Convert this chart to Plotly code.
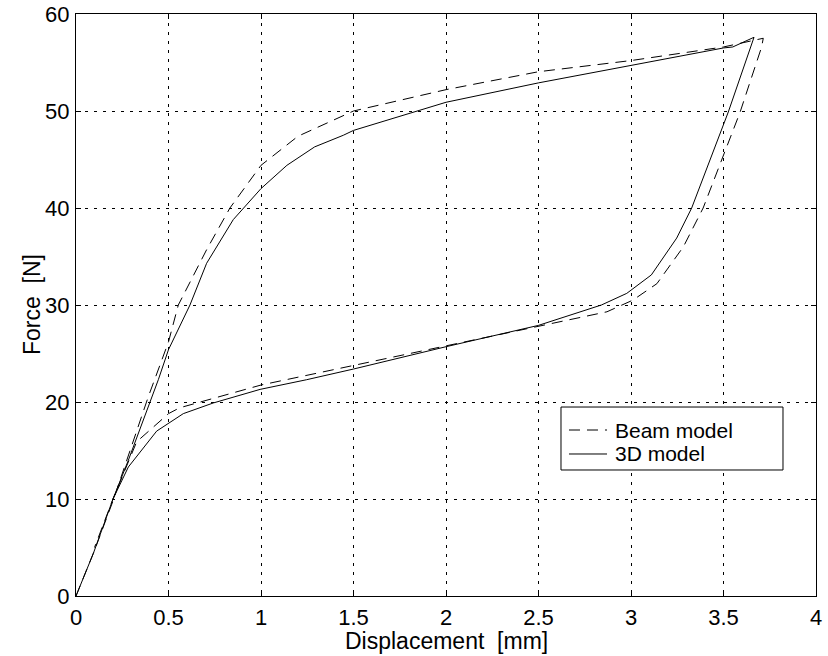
import plotly.graph_objects as go

beam_x = [0, 0.1, 0.2, 0.39, 0.5, 0.553, 0.706, 0.832, 1.0, 1.2, 1.5, 2.0, 2.5, 3.0, 3.5, 3.715,
          3.706, 3.59, 3.39, 3.283, 3.14, 3.01, 2.87, 2.5, 2.0, 1.5, 1.0, 0.56, 0.5, 0.328, 0.2, 0.1]
beam_y = [0, 4.7, 9.8, 20.5, 26.2, 30.0, 35.7, 40.0, 44.4, 47.4, 50.0, 52.2, 54.05, 55.2, 56.6, 57.5,
          56.6, 49.9, 40.0, 36.0, 32.2, 30.5, 29.3, 27.8, 25.8, 23.8, 21.75, 19.4, 18.8, 15.9, 10.0, 5.0]

model3d_x = [0, 0.094, 0.2, 0.283, 0.445, 0.5, 0.616, 0.706, 0.85, 1.0, 1.14, 1.29, 1.445, 1.5, 2.0, 2.5,
             3.0, 3.5, 3.55, 3.665, 3.526, 3.328, 3.247, 3.11, 2.977, 2.84, 2.5, 2.0, 1.5, 1.247, 0.995,
             0.742, 0.58, 0.436, 0.283, 0.2]
model3d_y = [0, 4.4, 10.0, 14.0, 22.3, 25.4, 30.0, 34.3, 38.8, 42.0, 44.4, 46.3, 47.5, 48.0, 50.9, 52.9,
             54.7, 56.5, 56.6, 57.6, 49.9, 40.0, 36.9, 33.1, 31.2, 30.0, 27.9, 25.7, 23.4, 22.3, 21.3,
             19.9, 18.8, 17.0, 13.3, 10.0]

x_ticks = [0, 0.5, 1, 1.5, 2, 2.5, 3, 3.5, 4]
y_ticks = [0, 10, 20, 30, 40, 50, 60]
series_names = ["Beam model", "3D model"]

FAM = "Liberation Sans, Arial, sans-serif"
DASH = "11px,7px"

fig = go.Figure()
fig.add_trace(go.Scatter(x=beam_x, y=beam_y, mode="lines", name=series_names[0],
                         line=dict(color="black", width=1, dash=DASH)))
fig.add_trace(go.Scatter(x=model3d_x, y=model3d_y, mode="lines", name=series_names[1],
                         line=dict(color="black", width=1)))

tickfont = dict(family=FAM, size=22, color="black")
axis_common = dict(showline=True, linecolor="black", linewidth=1, mirror="ticks",
                   ticks="inside", ticklen=5, tickcolor="black",
                   showgrid=True, gridcolor="black", gridwidth=1, griddash="3px,6px",
                   zeroline=False, tickfont=tickfont, automargin=False)

fig.update_xaxes(range=[0, 4], tickvals=x_ticks, ticktext=[str(v) for v in x_ticks],
                 ticklabelstandoff=2, **axis_common)
fig.update_yaxes(range=[0, 60], tickvals=y_ticks, ticktext=[str(v) for v in y_ticks],
                 ticklabelstandoff=1, **axis_common)

titlefont = dict(family=FAM, size=23, color="black")
fig.add_annotation(text="Displacement  [mm]", xref="paper", yref="paper", x=0.5, y=0,
                   yshift=-30, xanchor="center", yanchor="top", showarrow=False, font=titlefont)
fig.add_annotation(text="Force  [N]", xref="paper", yref="paper", x=0, y=0.5, xshift=-44,
                   textangle=-90, xanchor="center", yanchor="middle", showarrow=False, font=titlefont)

# manual legend (box, line samples, labels) in paper coordinates
leg_x0, leg_x1, leg_y0, leg_y1 = 0.6554, 0.9554, 0.2165, 0.3247
fig.add_shape(type="rect", xref="paper", yref="paper", x0=leg_x0, x1=leg_x1, y0=leg_y0, y1=leg_y1,
              line=dict(color="black", width=1), fillcolor="white", layer="above")
row_y = [0.2852, 0.2440]
dashes = [DASH, "solid"]
for name, ry, d in zip(series_names, row_y, dashes):
    fig.add_shape(type="line", xref="paper", yref="paper", x0=0.6662, x1=0.7176, y0=ry, y1=ry,
                  line=dict(color="black", width=1, dash=d), layer="above")
    fig.add_annotation(text=name, xref="paper", yref="paper", x=0.727, y=ry, xanchor="left",
                       yanchor="middle", showarrow=False, borderpad=0,
                       font=dict(family=FAM, size=21, color="black"))

fig.update_layout(
    width=828, height=656,
    margin=dict(l=76, r=12, t=14, b=60),
    plot_bgcolor="white", paper_bgcolor="white",
    showlegend=False,
)

fig.write_html("out.html")
